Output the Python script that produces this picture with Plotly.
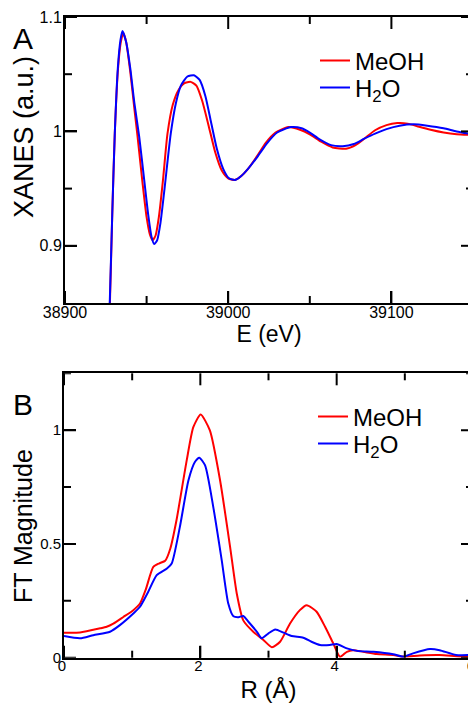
import plotly.graph_objects as go

# ---------------- Data: panel A (XANES) ----------------
xanes_E_meoh = [38924, 38927.5, 38929, 38930.5, 38932.5, 38934.2, 38935.7, 38937.5, 38940, 38942.5,
                38944.5, 38947.5, 38950, 38952, 38953.7, 38955.5, 38957.5, 38960, 38962.8, 38966,
                38969.5, 38973, 38977, 38980.5, 38984, 38988, 38992, 38996, 39000, 39004,
                39008, 39012, 39018, 39023, 39029, 39036.8, 39044, 39050, 39057, 39064,
                39072.2, 39078, 39083.4, 39090, 39097, 39103.6, 39110, 39117, 39124, 39132,
                39140, 39150]
xanes_meoh = [0.70, 0.849, 0.93, 0.998, 1.055, 1.078, 1.086, 1.078, 1.052, 1.020,
              0.995, 0.955, 0.925, 0.910, 0.905, 0.909, 0.925, 0.957, 0.998, 1.023,
              1.036, 1.042, 1.0433, 1.040, 1.027, 1.005, 0.982, 0.966, 0.959, 0.9576,
              0.961, 0.967, 0.979, 0.990, 0.999, 1.0038, 1.0015, 0.9975, 0.991, 0.986,
              0.9848, 0.988, 0.9936, 1.001, 1.0055, 1.0073, 1.0068, 1.004, 1.0014, 0.9990,
              0.9975, 0.9968]

xanes_E_h2o = [38924, 38927.4, 38929, 38930.5, 38932.4, 38934, 38935.2, 38937.5, 38940, 38942.5,
               38945.5, 38948.5, 38951, 38953, 38954.7, 38956.5, 38958.5, 38961, 38964.8, 38968,
               38971, 38975, 38979, 38982.5, 38986, 38989.5, 38993, 38997, 39000.5, 39004.3,
               39008, 39012, 39018, 39024, 39030, 39038.5, 39045, 39050, 39056, 39063,
               39070.2, 39077, 39083.4, 39090, 39097, 39105, 39113.7, 39122, 39132, 39140,
               39150]
xanes_h2o = [0.70, 0.849, 0.93, 0.998, 1.056, 1.080, 1.0877, 1.078, 1.055, 1.025,
             0.995, 0.958, 0.927, 0.908, 0.9015, 0.905, 0.920, 0.950, 0.998, 1.025,
             1.040, 1.048, 1.0491, 1.045, 1.031, 1.008, 0.985, 0.967, 0.959, 0.9576,
             0.961, 0.967, 0.978, 0.990, 0.999, 1.0038, 1.0028, 0.999, 0.993, 0.988,
             0.9871, 0.989, 0.9936, 0.998, 1.002, 1.005, 1.0062, 1.005, 1.0028, 1.000,
             0.9974]

# ---------------- Data: panel B (FT magnitude) ----------------
ft_R_meoh = [0.0, 0.235, 0.53, 0.626, 0.724, 0.87, 1.017, 1.115, 1.2, 1.31,
             1.40, 1.484, 1.56, 1.65, 1.8, 1.897, 2.005, 2.14, 2.29, 2.437,
             2.535, 2.63, 2.78, 2.925, 3.05, 3.17, 3.316, 3.46, 3.56, 3.706,
             3.83, 3.95, 4.05, 4.15, 4.24, 4.39, 4.585, 4.83, 4.98, 5.22,
             5.51, 5.8, 6.0]
ft_meoh = [0.110, 0.111, 0.129, 0.136, 0.150, 0.179, 0.209, 0.238, 0.300, 0.399,
           0.415, 0.426, 0.480, 0.604, 0.867, 1.013, 1.069, 0.999, 0.779, 0.486,
           0.281, 0.164, 0.113, 0.078, 0.046, 0.070, 0.150, 0.209, 0.231, 0.202,
           0.136, 0.063, 0.004, 0.026, 0.033, 0.026, 0.016, 0.012, 0.005, 0.010,
           0.012, 0.005, 0.004]

ft_R_h2o = [0.0, 0.235, 0.43, 0.675, 0.82, 1.017, 1.115, 1.236, 1.36, 1.51,
            1.58, 1.70, 1.825, 1.92, 1.985, 2.07, 2.19, 2.314, 2.41, 2.485,
            2.56, 2.63, 2.705, 2.83, 2.9, 3.0, 3.1, 3.22, 3.34, 3.51, 3.63,
            3.755, 3.9, 4.0, 4.15, 4.3, 4.54, 4.83, 4.98, 5.12, 5.37,
            5.51, 5.75, 6.0]
ft_h2o = [0.095, 0.085, 0.099, 0.114, 0.143, 0.194, 0.224, 0.290, 0.363, 0.392,
          0.414, 0.575, 0.779, 0.860, 0.879, 0.845, 0.662, 0.428, 0.238, 0.182,
          0.178, 0.183, 0.158, 0.114, 0.085, 0.107, 0.124, 0.110, 0.095, 0.088, 0.070,
          0.056, 0.056, 0.060, 0.041, 0.030, 0.026, 0.015, 0.004, 0.019, 0.038,
          0.033, 0.012, 0.012]

# ---------------- Tick values ----------------
a_x_major = [38900, 39000, 39100]
a_x_minor = [38950, 39050, 39150]
a_y_major = [0.9, 1.0, 1.1]
a_y_minor = [0.95, 1.05]
b_x_major = [0, 2, 4, 6]
b_x_minor = [1, 3, 5]
b_y_major = [0, 0.5, 1.0]
b_y_minor = [0.25, 0.75, 1.25]

series_names = ["MeOH", "H<sub>2</sub>O"]
series_colors = ["#ff0000", "#0000ff"]

FONT = "Liberation Sans, Arial, Helvetica, sans-serif"

fig = go.Figure()

fig.add_trace(go.Scatter(x=xanes_E_meoh, y=xanes_meoh, mode="lines", name=series_names[0],
                         line=dict(color=series_colors[0], width=2, shape="spline", smoothing=0.6),
                         xaxis="x", yaxis="y", legend="legend"))
fig.add_trace(go.Scatter(x=xanes_E_h2o, y=xanes_h2o, mode="lines", name=series_names[1],
                         line=dict(color=series_colors[1], width=2, shape="spline", smoothing=0.6),
                         xaxis="x", yaxis="y", legend="legend2"))
fig.add_trace(go.Scatter(x=ft_R_meoh, y=ft_meoh, mode="lines", name=series_names[0],
                         line=dict(color=series_colors[0], width=2, shape="spline", smoothing=0.6),
                         xaxis="x2", yaxis="y2", legend="legend3"))
fig.add_trace(go.Scatter(x=ft_R_h2o, y=ft_h2o, mode="lines", name=series_names[1],
                         line=dict(color=series_colors[1], width=2, shape="spline", smoothing=0.6),
                         xaxis="x2", yaxis="y2", legend="legend4"))

# page body has an 8px margin: the figure is sized to fill the remainder of the window
OFF = 8
W, H = 476 - OFF, 706 - OFF


def px(x):
    return (x - OFF) / W


def py(y):
    return 1 - (y - OFF) / H


def axis_style(tsize, standoff, **kw):
    d = dict(showline=True, linecolor="black", linewidth=2, mirror=True,
             ticks="inside", ticklen=12, tickwidth=2, tickcolor="black",
             showticklabels=True,
             showgrid=False, zeroline=False, automargin=False,
             ticklabeloverflow="allow", ticklabelstandoff=standoff,
             tickfont=dict(family=FONT, size=tsize, color="black"))
    d.update(kw)
    return d


# inward tick marks on all four sides, placed through the axes' own scales
TICK = dict(color="black", width=2)


def tick_shapes(xa, ya, xvals, yvals, length):
    out = []
    for t in xvals:
        for anchor, sign in ((0, 1), (1, -1)):
            out.append(dict(type="line", xref=xa, yref=ya + " domain", x0=t, x1=t,
                            ysizemode="pixel", yanchor=anchor, y0=0, y1=sign * length,
                            line=TICK, layer="above"))
    for t in yvals:
        for anchor, sign in ((0, 1), (1, -1)):
            out.append(dict(type="line", xref=xa + " domain", yref=ya, y0=t, y1=t,
                            xsizemode="pixel", xanchor=anchor, x0=0, x1=sign * length,
                            line=TICK, layer="above"))
    return out


shapes = (tick_shapes("x", "y", a_x_major, a_y_major, 12)
          + tick_shapes("x", "y", a_x_minor, a_y_minor, 7)
          + tick_shapes("x2", "y2", b_x_major, b_y_major, 12)
          + tick_shapes("x2", "y2", b_x_minor, b_y_minor, 7))

leg_font = dict(family=FONT, size=24, color="black")


def leg(x, y):
    return dict(x=px(x), y=py(y), xanchor="left", yanchor="middle", font=leg_font,
                bgcolor="rgba(0,0,0,0)", borderwidth=0)


fig.update_layout(
    template="none",
    width=W, height=H,
    margin=dict(l=0, r=0, t=0, b=0, autoexpand=False),
    paper_bgcolor="white", plot_bgcolor="white",
    font=dict(family=FONT, color="black"),
    showlegend=True,
    xaxis=axis_style(16, -6, domain=[px(65), px(473)], anchor="y", range=[38900, 39150],
                     tickvals=a_x_major, tickformat="d",
                     title=dict(text="E (eV)", font=dict(family=FONT, size=23), standoff=0)),
    yaxis=axis_style(16, -2, domain=[py(303), py(17)], anchor="x", range=[0.85, 1.1],
                     tickvals=a_y_major, ticktext=["0.9", "1", "1.1"]),
    xaxis2=axis_style(15, -7, domain=[px(64), px(473)], anchor="y2", range=[0, 6],
                      tickvals=b_x_major, ticklabelshift=-2,
                      title=dict(text="R (Å)", font=dict(family=FONT, size=24), standoff=8)),
    yaxis2=axis_style(15, -2, domain=[py(657.7), py(373.3)], anchor="x2", range=[0, 1.25],
                      tickvals=b_y_major, ticktext=["0", "0.5", "1"]),
    shapes=shapes,
    legend=leg(315, 61),
    legend2=leg(315, 88),
    legend3=leg(313, 417),
    legend4=leg(313, 444),
    annotations=[
        dict(text="A", x=px(11), y=py(38), xref="paper", yref="paper", xanchor="left",
             yanchor="middle", showarrow=False, font=dict(family=FONT, size=30, color="black")),
        dict(text="B", x=px(11), y=py(404), xref="paper", yref="paper", xanchor="left",
             yanchor="middle", showarrow=False, font=dict(family=FONT, size=30, color="black")),
        dict(text="XANES (a.u.)", x=px(24), y=py(137), xref="paper", yref="paper",
             xanchor="center", yanchor="middle", textangle=-90, showarrow=False,
             font=dict(family=FONT, size=27, color="black")),
        dict(text="FT Magnitude", x=px(23), y=py(526), xref="paper", yref="paper",
             xanchor="center", yanchor="middle", textangle=-90, showarrow=False,
             font=dict(family=FONT, size=25, color="black")),
    ],
)

fig.write_html("out.html")
